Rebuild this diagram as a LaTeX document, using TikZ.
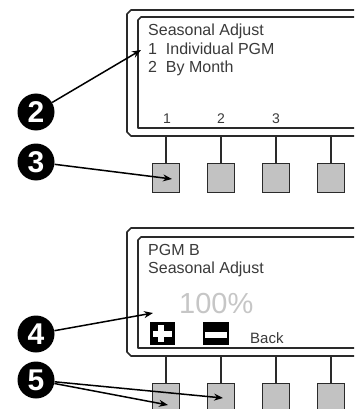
\documentclass[tikz,border=0pt]{standalone}
\usepackage{fontspec}
\setmainfont{Liberation Sans}
\usetikzlibrary{arrows.meta}
\definecolor{ink}{HTML}{2A2A2A}
\definecolor{lcd}{HTML}{3A3A3A}
\definecolor{btn}{HTML}{C2C2C2}
\definecolor{faint}{HTML}{C6C6C6}
\tikzset{
  frame/.style={draw=ink, line width=1.6pt, line join=round},
  stem/.style={draw=ink, line width=1.3pt},
  btnbox/.style={draw=ink, fill=btn, line width=1.4pt},
  lcdtext/.style={anchor=base west, inner sep=0pt, text=lcd, font=\fontsize{16}{16}\selectfont},
  keylabel/.style={anchor=base, inner sep=0pt, text=lcd, font=\fontsize{14}{14}\selectfont},
  callout/.style={circle, fill=black, minimum size=37pt, inner sep=0pt, text=white,
    font=\fontsize{30}{30}\selectfont\bfseries},
  pointer/.style={draw=black, line width=1.5pt, -{Stealth[length=9pt,width=7pt]}},
}
\begin{document}
\begin{tikzpicture}[x=1pt,y=-1pt]
\useasboundingbox (0,0) rectangle (354,409);
\clip (0,0) rectangle (354,409);
\fill[white] (0,0) rectangle (354,409);

% ---------- top panel ----------
\draw[frame] (360,10) -- (131,10) -- (127,14) -- (127,132) -- (131,136) -- (360,136);
\draw[frame] (360,17) -- (141,17) -- (138,20) -- (138,128) -- (360,128);
\node[lcdtext] (t1) at (148,36) {Seasonal Adjust};
\node[lcdtext] (t2) at (148,55) {1\ \ Individual PGM};
\node[lcdtext] (t3) at (148,73) {2\ \ By Month};
\node[keylabel] (k1) at (167,124) {1};
\node[keylabel] (k2) at (221,124) {2};
\node[keylabel] (k3) at (276,124) {3};
\foreach \x/\n in {166/a,221/b,276/c,331/d}{
  \draw[stem] (\x,136) -- (\x,164);
  \node[btnbox, minimum width=27pt, minimum height=29pt, inner sep=0pt] (top\n) at (\x,178) {};
}

% ---------- bottom panel ----------
\draw[frame] (360,228) -- (131,228) -- (127,232) -- (127,352) -- (131,356) -- (360,356);
\draw[frame] (360,237) -- (141,237) -- (138,240) -- (138,348) -- (360,348);
\node[lcdtext] (p1) at (148,255) {PGM B};
\node[lcdtext] (p2) at (148,273) {Seasonal Adjust};
\node[anchor=base west, inner sep=0pt, text=faint, font=\fontsize{29}{29}\selectfont] (pct) at (179,313) {100\%};
\node[anchor=base west, inner sep=0pt, text=lcd, font=\fontsize{15}{15}\selectfont] (back) at (250,343) {Back};
% plus key icon
\fill[black] (150,322) rectangle (175,345);
\fill[white] (158,325) rectangle (164,342);
\fill[white] (153,331) rectangle (172,337);
% minus key icon
\fill[black] (203,322) rectangle (229,345);
\fill[white] (205,332) rectangle (227,338);
\foreach \x/\n in {166/a,221/b,276/c,331/d}{
  \draw[stem] (\x,356) -- (\x,384);
  \node[btnbox, minimum width=27pt, minimum height=29pt, inner sep=0pt] (bot\n) at (\x,398) {};
}

% ---------- callouts ----------
\node[callout] (c2) at (36,112) {2};
\node[callout] (c3) at (36,162) {3};
\node[callout] (c4) at (36,334) {4};
\node[callout] (c5) at (36,380) {5};
\coordinate (a2) at (141,50);
\coordinate (a3) at (172,179);
\coordinate (a4) at (153,313);
\coordinate (a5) at (168,405);
\coordinate (b5) at (223,398);
\draw[pointer] (c2) -- (a2);
\draw[pointer] (c3) -- (a3);
\draw[pointer] (c4) -- (a4);
\draw[pointer] (c5) -- (a5);
\draw[pointer] (c5) -- (b5);
\end{tikzpicture}
\end{document}
